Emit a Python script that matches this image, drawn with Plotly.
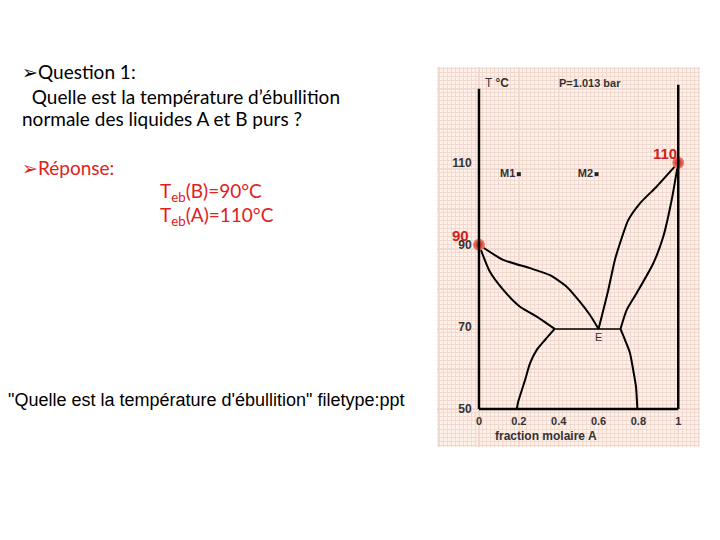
import plotly.graph_objects as go

# ---- data (mole fraction of A, temperature in °C) ----
x_vap_B = [0, 0.122, 0.256, 0.356, 0.44, 0.507, 0.557, 0.6]
T_vap_B = [90, 86.3, 84.3, 82.6, 79.8, 76.1, 72.9, 69.5]
x_liq_B = [0, 0.055, 0.122, 0.206, 0.29, 0.38]
T_liq_B = [90, 83.4, 79.0, 74.9, 72.5, 69.5]
x_vap_A = [1, 0.892, 0.808, 0.749, 0.716, 0.682, 0.649, 0.6]
T_vap_A = [110, 104.2, 100.1, 96.0, 91.6, 86.3, 79.0, 69.5]
x_liq_A = [1, 0.967, 0.925, 0.875, 0.791, 0.741, 0.71]
T_liq_A = [110, 100.9, 92.0, 85.5, 78.2, 74.1, 69.5]
x_eut = [0.38, 0.71]
T_eut = [69.5, 69.5]
x_sol_B = [0.38, 0.331, 0.29, 0.256, 0.231, 0.197, 0.19]
T_sol_B = [69.5, 66.8, 64.4, 61.1, 57.0, 51.8, 50]
x_sol_A = [0.71, 0.733, 0.758, 0.774, 0.788, 0.795]
T_sol_A = [69.5, 66.8, 63.6, 59.5, 55.4, 50]
x_pure = [0, 1]
T_pure = [90, 110]
pure_labels = ["90", "110"]
pure_label_shift = [-8, 1]
x_M = [0.2, 0.59]
T_M = [107.2, 107.2]
M_labels = ["M1", "M2"]
x_ticks = [0, 0.2, 0.4, 0.6, 0.8, 1]
x_ticktext = ["0", "0.2", "0.4", "0.6", "0.8", "1"]
T_ticks = [50, 70, 90, 110]

X_RANGE = [-0.2107, 1.1092]
Y_RANGE = [40.74, 133.3]
RED = "#e0211d"
OFF = 8  # page body margin

W, H = 720, 540

fig = go.Figure()

line_style = dict(color="black", width=2, shape="spline", smoothing=0.6)
for xs, ts in [(x_vap_B, T_vap_B), (x_liq_B, T_liq_B), (x_vap_A, T_vap_A),
               (x_liq_A, T_liq_A), (x_sol_B, T_sol_B), (x_sol_A, T_sol_A)]:
    fig.add_trace(go.Scatter(x=xs, y=ts, mode="lines", line=line_style,
                             hoverinfo="skip", showlegend=False))
fig.add_trace(go.Scatter(x=x_eut, y=T_eut, mode="lines",
                         line=dict(color="black", width=1.5),
                         hoverinfo="skip", showlegend=False))

# M1 / M2 points
fig.add_trace(go.Scatter(x=x_M, y=T_M, mode="markers+text", text=M_labels,
                         textposition="middle left",
                         textfont=dict(family="Liberation Sans", size=11,
                                       color="#333", weight="bold"),
                         marker=dict(symbol="square", size=4, color="#222"),
                         hoverinfo="skip", showlegend=False))

# pure-component boiling points
fig.add_trace(go.Scatter(x=x_pure, y=T_pure, mode="markers",
                         marker=dict(size=12, color="#f58070",
                                     gradient=dict(type="radial", color="#b3231a"),
                                     line=dict(width=0)),
                         hoverinfo="skip", showlegend=False))

def P(px, py):
    return (px - OFF) / W, 1 - (py - OFF) / H

DX = [P(437, 0)[0], P(700, 0)[0]]
DY = [P(0, 447)[1], P(0, 67)[1]]

# frame lines and graph-paper major grid
shapes = []
shapes.append(dict(type="line", xref="x", yref="y", x0=0, x1=0, y0=50, y1=128,
                   line=dict(color="black", width=2.5)))
shapes.append(dict(type="line", xref="x", yref="y", x0=1, x1=1, y0=50, y1=129,
                   line=dict(color="black", width=2.5)))
shapes.append(dict(type="line", xref="x", yref="y", x0=0, x1=1, y0=50, y1=50,
                   line=dict(color="black", width=2.5)))
major_col = "#dcb5ab"
for k in range(-1, 6):
    xv = 0.2 * k
    shapes.append(dict(type="line", xref="x", yref="paper", x0=xv, x1=xv,
                       y0=DY[0], y1=DY[1], layer="below",
                       line=dict(color=major_col, width=1)))
for k in range(0, 9):
    yv = 50 + 9.75 * k
    shapes.append(dict(type="line", xref="paper", yref="y", x0=DX[0], x1=DX[1],
                       y0=yv, y1=yv, layer="below",
                       line=dict(color=major_col, width=1)))

ann = []
def add(text, px, py, size, color="#000", family="Lato", xanchor="left", weight="normal"):
    x, y = P(px, py)
    ann.append(dict(text=text, x=x, y=y, xref="paper", yref="paper", showarrow=False,
                    xanchor=xanchor, yanchor="middle",
                    font=dict(family=family, size=size, color=color, weight=weight)))

# slide text
add("➢Question 1:", 20, 71, 19)
add("  Quelle est la température d’ébullition", 20, 96, 19)
add("normale des liquides A et B purs ?", 20, 119, 19)
add("➢Réponse:", 20, 167, 19, color=RED)
add("T<sub>eb</sub>(B)=90°C", 158, 192, 19, color=RED)
add("T<sub>eb</sub>(A)=110°C", 158, 216, 19, color=RED)
add('"Quelle est la température d\'ébullition" filetype:ppt', 6, 400, 18,
    family="Liberation Sans")

# chart labels
add("T <b>°C</b>", 483, 83, 12, color="#333", family="Liberation Sans")
add("P=1.013 bar", 590, 83, 11, color="#333", family="Liberation Sans",
    xanchor="center", weight="bold")
add("fraction molaire A", 546, 436, 12, color="#333", family="Liberation Sans",
    xanchor="center", weight="bold")
ann.append(dict(text="E", x=0.6, y=69.5, xref="x", yref="y", showarrow=False,
                yshift=-8, font=dict(family="Liberation Sans", size=11, color="#333")))
for xv, tv, lab, sh in zip(x_pure, T_pure, pure_labels, pure_label_shift):
    ann.append(dict(text=lab, x=xv, y=tv, xref="x", yref="y", showarrow=False,
                    xanchor="right", yanchor="bottom", xshift=sh, yshift=-1,
                    font=dict(family="Liberation Sans", size=15, color="#d0201a",
                              weight="bold")))

fig.update_layout(
    width=W, height=H,
    margin=dict(l=0, r=0, t=0, b=0),
    paper_bgcolor="white",
    plot_bgcolor="#fdf1ea",
    shapes=shapes,
    annotations=ann,
    showlegend=False,
    xaxis=dict(domain=DX, range=X_RANGE, anchor="free",
               position=P(0, 409)[1], tickvals=x_ticks, ticktext=x_ticktext,
               showgrid=False, zeroline=False, showline=False,
               ticks="outside", ticklen=2, tickcolor="rgba(0,0,0,0)",
               tickfont=dict(family="Liberation Sans", size=11, color="#333",
                             weight="bold"),
               minor=dict(tick0=0, dtick=0.02, showgrid=True,
                          gridcolor="#f1d9d0", gridwidth=1)),
    yaxis=dict(domain=DY, range=Y_RANGE, anchor="free",
               position=P(479, 0)[0], tickvals=T_ticks,
               showgrid=False, zeroline=False, showline=False,
               ticks="outside", ticklen=5, tickcolor="rgba(0,0,0,0)",
               tickfont=dict(family="Liberation Sans", size=12, color="#333",
                             weight="bold"),
               minor=dict(tick0=50, dtick=0.975, showgrid=True,
                          gridcolor="#f1d9d0", gridwidth=1)),
)

fig.write_html("out.html")
